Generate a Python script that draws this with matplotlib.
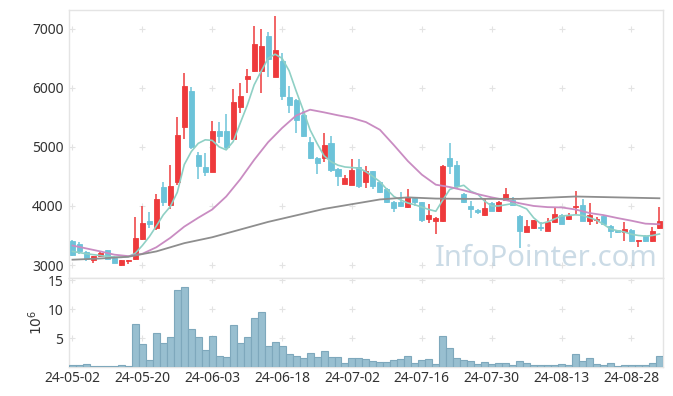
import matplotlib.pyplot as plt
import numpy as np

# daily candles, 2024-05-02 .. 2024-09-03 (trading days)
opens = [3400, 3350, 3220, 3080, 3150, 3250, 3120, 3005, 3070, 3110,
         3440, 3750, 3620, 4320, 4020, 4410, 5340, 5950, 4860, 4660,
         4580, 5270, 5270, 5140, 5680, 6150, 6290, 6290, 6880, 6190,
         6450, 5840, 5800, 5540, 5080, 4810, 4820, 5070, 4630, 4380,
         4360, 4660, 4400, 4590, 4400, 4290, 4070, 4070, 3990, 4140,
         4060, 3780, 3750, 3740, 4810, 4700, 4210, 4000, 3930, 3840,
         4050, 3920, 4100, 4100, 3830, 3565, 3620, 3650, 3580, 3720,
         3850, 3780, 3980, 4010, 3750, 3760, 3830, 3660, 3590, 3560,
         3600, 3400, 3490, 3400, 3620]
highs = [3420, 3390, 3230, 3160, 3240, 3260, 3150, 3090, 3090, 3820,
         4000, 3900, 4200, 4400, 4690, 5500, 6250, 6010, 4920, 4890,
         5440, 5430, 5560, 5980, 6080, 6320, 7050, 6990, 6950, 7220,
         6590, 6030, 5810, 5600, 5170, 4830, 5230, 5190, 4640, 4530,
         4790, 4790, 4670, 4600, 4410, 4300, 4080, 4240, 4280, 4150,
         4070, 4030, 3810, 4700, 5060, 4760, 4220, 4080, 3950, 4140,
         4060, 4090, 4300, 4150, 3840, 3760, 3770, 3720, 3800, 3980,
         3860, 3880, 4260, 4110, 4050, 3820, 3840, 3670, 3600, 3720,
         3610, 3430, 3500, 3640, 3980]
lows = [3160, 3190, 3060, 3030, 3130, 3100, 3030, 2990, 3020, 3090,
        3420, 3620, 3590, 4005, 3940, 4350, 5130, 4960, 4450, 4510,
        4580, 5060, 4960, 5130, 5570, 5910, 6260, 5910, 6190, 6190,
        5800, 5580, 5230, 5170, 4800, 4540, 4740, 4570, 4340, 4370,
        4350, 4300, 4300, 4290, 4220, 4050, 3890, 3990, 3960, 4000,
        3720, 3710, 3520, 3730, 4540, 4300, 4050, 3800, 3860, 3830,
        3910, 3900, 4080, 4010, 3280, 3560, 3610, 3570, 3570, 3710,
        3690, 3770, 3870, 3740, 3680, 3700, 3690, 3450, 3550, 3410,
        3390, 3300, 3390, 3390, 3610]
closes = [3170, 3240, 3100, 3150, 3200, 3110, 3035, 3085, 3085, 3460,
          3710, 3700, 4120, 4070, 4330, 5200, 6030, 5000, 4670, 4580,
          5270, 5190, 5000, 5760, 5860, 6200, 6750, 6710, 6490, 6640,
          5860, 5710, 5460, 5180, 4820, 4720, 5030, 4610, 4500, 4475,
          4610, 4330, 4590, 4330, 4230, 4060, 3960, 4000, 4150, 4060,
          3770, 3850, 3800, 4680, 4680, 4340, 4060, 3950, 3890, 3960,
          3920, 4060, 4200, 4020, 3580, 3660, 3760, 3620, 3730, 3860,
          3700, 3830, 4000, 3750, 3840, 3780, 3700, 3580, 3560, 3610,
          3400, 3420, 3400, 3580, 3750]
# volume in millions of shares
volumes = [0.3, 0.3, 0.5, 0.15, 0.15, 0.15, 0.15, 0.35, 0.15, 7.37,
           3.94, 1.2, 5.83, 4.11, 5.14, 13.37, 13.89, 6.51, 5.14, 2.97,
           5.31, 1.89, 1.71, 7.2, 4.11, 5.14, 8.57, 9.6, 3.6, 4.29,
           3.6, 2.23, 1.89, 1.54, 2.4, 1.71, 2.8, 1.71, 1.71, 0.69,
           1.54, 1.54, 1.37, 1.03, 0.86, 0.86, 1.2, 1.37, 1.89, 0.69,
           1.2, 1.37, 0.51, 5.31, 3.26, 1.54, 1.2, 1.03, 0.51, 0.86,
           0.51, 0.69, 0.69, 0.34, 1.03, 0.69, 0.34, 0.34, 0.34, 0.34,
           0.51, 0.34, 2.23, 1.03, 1.54, 0.51, 0.34, 0.69, 0.17, 0.34,
           0.34, 0.34, 0.34, 0.69, 1.89]

# moving averages
ma5 = [3230, 3210, 3190, 3175, 3160, 3145, 3135, 3130, 3140, 3200,
       3330, 3480, 3660, 3850, 3990, 4230, 4700, 4920, 5060, 5120,
       5110, 5000, 4950, 5090, 5400, 5700, 6050, 6280, 6500, 6570,
       6500, 6290, 5950, 5630, 5290, 5060, 4850, 4750, 4690, 4660,
       4650, 4640, 4580, 4500, 4410, 4280, 4160, 4100, 4050, 4020,
       3980, 3940, 3910, 4100, 4280, 4320, 4350, 4250, 4200, 4080,
       4000, 4000, 4020, 4040, 4000, 3950, 3800, 3700, 3730, 3780,
       3830, 3840, 3850, 3840, 3800, 3760, 3690, 3610, 3580, 3560,
       3520, 3500, 3490, 3500, 3525]
ma20_days = list(range(0, 85, 2))
ma20 = [3330, 3280, 3230, 3175, 3150, 3190, 3300, 3460, 3650, 3800,
        3940, 4160, 4450, 4780, 5080, 5320, 5530, 5630, 5585, 5535,
        5490, 5420, 5290, 5030, 4760, 4530, 4360, 4320, 4265, 4200,
        4145, 4100, 4045, 4000, 3980, 3975, 3940, 3880, 3845, 3795,
        3750, 3700, 3690]
ma60_days = list(range(0, 85, 4))
ma60 = [3090, 3110, 3140, 3230, 3370, 3470, 3600, 3730, 3840, 3950,
        4030, 4110, 4145, 4125, 4120, 4120, 4120, 4140, 4160, 4150,
        4140, 4130]

tick_labels = ['24-05-02', '24-05-20', '24-06-03', '24-06-18', '24-07-02',
               '24-07-16', '24-07-30', '24-08-13', '24-08-28']

up_col = '#ee3a3c'
down_col = '#6cc3d9'
grid_col = '#e3e3e3'
font = ['Noto Sans', 'DejaVu Sans']

fig = plt.figure(figsize=(6.73, 3.96), dpi=100)
ax = fig.add_axes([0.1025, 0.298, 0.8825, 0.677])
axv = fig.add_axes([0.1025, 0.073, 0.8825, 0.225], sharex=ax)

o = np.array(opens)
c = np.array(closes)
x = np.arange(len(o))
cols = np.where(c >= o, up_col, down_col)

ax.vlines(x, lows, highs, colors=cols, linewidth=1.1, zorder=3)
ax.bar(x, np.abs(c - o), bottom=np.minimum(o, c), width=0.72,
       color=cols, edgecolor=cols, linewidth=0.6, zorder=4)

ax.plot(x, ma5, color='#8fd0c5', lw=1.2, zorder=5)
ax.plot(ma20_days, ma20, color='#c98cc2', lw=1.3, zorder=5)
ax.plot(ma60_days, ma60, color='#8e8e8e', lw=1.3, zorder=5)

axv.bar(x, volumes, width=1.0, color='#98bfd0', edgecolor='#7ea8bc',
        linewidth=0.8, zorder=3)

ax.set_xlim(-0.5, len(o) - 0.5)
ax.set_ylim(2780, 7320)
axv.set_ylim(0, 15.4)

xt = np.arange(0, len(o), 10)
yt = [3000, 4000, 5000, 6000, 7000]
vt = [5, 10, 15]
axv.set_xticks(xt)
axv.set_xticklabels(tick_labels)
ax.set_yticks(yt)
ax.set_yticklabels([str(v) for v in yt])
axv.set_yticks(vt)
axv.set_yticklabels([str(v) for v in vt])
plt.setp(ax.get_xticklabels(), visible=False)

# "+" grid marks at tick crossings
gx, gy = np.meshgrid(xt, yt)
ax.scatter(gx.ravel(), gy.ravel(), marker='+', s=22, color=grid_col,
           linewidths=0.8, zorder=1)
gx, gy = np.meshgrid(xt, vt)
axv.scatter(gx.ravel(), gy.ravel(), marker='+', s=22, color=grid_col,
            linewidths=0.8, zorder=1)

for a in (ax, axv):
    a.tick_params(length=0, labelsize=10, labelcolor='#333333', pad=4)
    for s in a.spines.values():
        s.set_color('#e4e4e4')
        s.set_linewidth(1.0)
    for t in a.get_xticklabels() + a.get_yticklabels():
        t.set_family(font)
axv.tick_params(axis='x', pad=3)

axv.set_ylabel(r'$10^6$', fontsize=10, color='#333333', labelpad=2)

ax.text(0.803, 0.045, 'InfoPointer.com', transform=ax.transAxes,
        ha='center', va='baseline', fontsize=21, color='#a9c4d6',
        alpha=0.6, family=font, zorder=6)

fig.savefig('out.png', dpi=100)
